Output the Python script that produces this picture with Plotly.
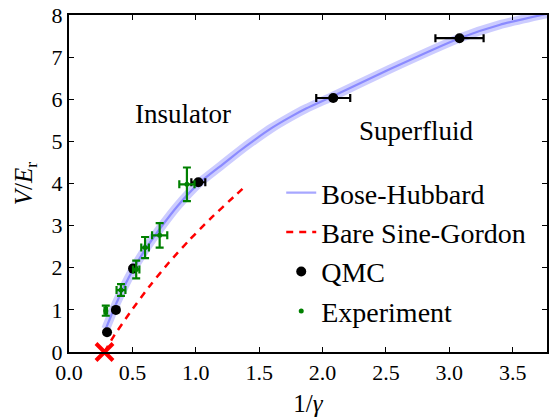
import plotly.graph_objects as go

# Bose-Hubbard curve
bh_x = [0.29, 0.375, 0.5, 0.61, 0.74, 0.86, 1.03, 1.21, 1.34, 1.47, 1.60, 1.74, 1.87, 2.08, 2.52, 3.08, 3.4, 3.77]
bh_y = [0.55, 1.17, 1.93, 2.47, 3.02, 3.48, 4.02, 4.45, 4.76, 5.05, 5.32, 5.57, 5.78, 6.07, 6.70, 7.45, 7.77, 8.03]

# Bare Sine-Gordon curve
sg_x = [0.28, 0.35, 0.48, 0.64, 0.79, 0.95, 1.11, 1.32, 1.40]
sg_y = [0.0, 0.36, 0.93, 1.58, 2.13, 2.66, 3.15, 3.74, 3.96]

# QMC points
qmc_x = [0.30, 0.37, 0.505, 1.02, 2.084, 3.08]
qmc_y = [0.47, 1.0, 1.98, 4.03, 6.03, 7.45]
qmc_xerr = [0.0, 0.015, 0.015, 0.055, 0.134, 0.19]

# Experiment points
exp_x = [0.29, 0.41, 0.53, 0.60, 0.715, 0.93]
exp_y = [0.98, 1.47, 1.96, 2.48, 2.77, 3.98]
exp_xerr = [0.01, 0.035, 0.025, 0.03, 0.06, 0.06]
exp_yerr = [0.12, 0.14, 0.21, 0.25, 0.29, 0.40]

# critical point marker
crit_x = [0.28]
crit_y = [0.0]

# region labels
region_text = ["Insulator", "Superfluid"]
region_x = [0.90, 2.74]
region_y = [5.64, 5.25]

FONT = "Liberation Serif"

fig = go.Figure()

fig.add_trace(go.Scatter(x=bh_x, y=bh_y, mode="lines", showlegend=False, hoverinfo="skip",
                         line=dict(color="rgba(0,0,255,0.2)", width=9, shape="spline", smoothing=0.5)))
fig.add_trace(go.Scatter(x=bh_x, y=bh_y, mode="lines", name="Bose-Hubbard",
                         line=dict(color="rgba(60,60,255,0.45)", width=2.2, shape="spline", smoothing=0.5)))
fig.add_trace(go.Scatter(x=sg_x, y=sg_y, mode="lines", name="Bare Sine-Gordon",
                         line=dict(color="red", width=2.5, dash="7px,6px", shape="spline", smoothing=0.6)))
fig.add_trace(go.Scatter(x=qmc_x, y=qmc_y, mode="markers", name="QMC",
                         marker=dict(color="black", size=10),
                         error_x=dict(type="data", array=qmc_xerr, color="black", thickness=2.2, width=4)))
fig.add_trace(go.Scatter(x=exp_x, y=exp_y, mode="markers", name="Experiment",
                         marker=dict(color="#008000", size=5),
                         error_x=dict(type="data", array=exp_xerr, color="#008000", thickness=2.2, width=4),
                         error_y=dict(type="data", array=exp_yerr, color="#008000", thickness=2.2, width=4)))
fig.add_trace(go.Scatter(x=crit_x, y=crit_y, mode="markers", showlegend=False, cliponaxis=False,
                         marker=dict(symbol="x-thin", size=17, line=dict(color="red", width=4))))

for t, xx, yy in zip(region_text, region_x, region_y):
    fig.add_annotation(x=xx, y=yy, text=t, showarrow=False,
                       font=dict(family=FONT, size=27, color="black"))

axis_common = dict(showline=True, linecolor="black", linewidth=2, mirror="ticks",
                   ticks="inside", ticklen=5, tickwidth=1.2, tickcolor="black",
                   showgrid=False, zeroline=False,
                   tickfont=dict(family=FONT, size=22, color="black"))

fig.update_xaxes(range=[0, 3.77], tick0=0, dtick=0.5, tickformat=".1f",
                 title=dict(text="1/<i>γ</i>", font=dict(family=FONT, size=25, color="black"), standoff=12),
                 **axis_common)
fig.update_yaxes(range=[0, 8], tick0=0, dtick=1,
                 title=dict(text="<i>V</i>/<i>E</i><sub>r</sub>", font=dict(family=FONT, size=25, color="black"), standoff=12),
                 **axis_common)

fig.update_layout(
    width=549, height=417,
    margin=dict(l=69, r=0, t=15, b=65),
    plot_bgcolor="white", paper_bgcolor="white",
    legend=dict(x=0.444, y=0.546, xanchor="left", yanchor="top",
                bgcolor="rgba(255,255,255,0.85)", borderwidth=0,
                font=dict(family=FONT, size=28, color="black"),
                tracegroupgap=0),
)

fig.write_html("out.html", config={"displayModeBar": False},
               post_script="document.body.style.margin='0';")
